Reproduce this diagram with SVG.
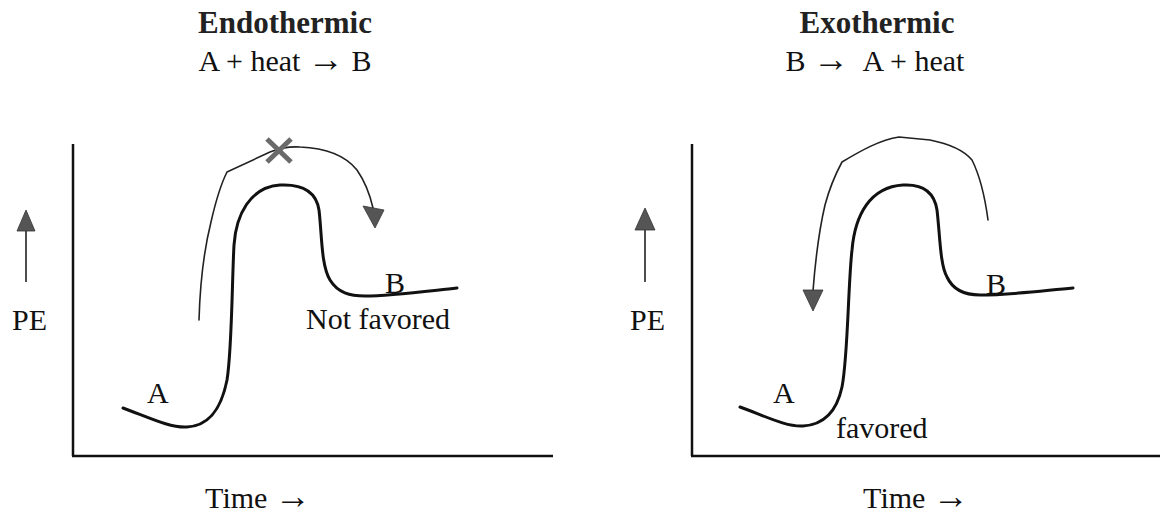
<svg xmlns="http://www.w3.org/2000/svg" width="1161" height="518" viewBox="0 0 1161 518">
<style>
text{font-family:"Liberation Serif","Times New Roman",serif;fill:#111;font-size:30px}
.title{font-weight:bold;font-size:31px;fill:#222}
.mid{text-anchor:middle}
.arr{font-size:36px}
.axis{stroke:#111;stroke-width:2.5;fill:none}
.curve{stroke:#111;stroke-width:3;fill:none;stroke-linecap:round}
.path{stroke:#222;stroke-width:1.6;fill:none;stroke-linecap:round;stroke-linejoin:round}
.head{fill:#555;stroke:#333;stroke-width:0.8}
.shaft{stroke:#222;stroke-width:1.6}
.cross{stroke:#6a6a6a;stroke-width:5;stroke-linecap:butt}
</style>
<g id="endothermic">
  <g id="endo-title">
    <text class="title mid" x="285" y="33">Endothermic</text>
    <text class="mid" x="285" y="71">A + heat <tspan class="arr">→</tspan> B</text>
  </g>
  <g id="endo-axes">
    <line class="axis" x1="73" y1="144" x2="73" y2="456"/>
    <line class="axis" x1="72" y1="456" x2="553" y2="456"/>
    <line class="shaft" x1="26" y1="229" x2="26" y2="282"/>
    <polygon class="head" points="26,210 17,231 35,231"/>
    <text x="12" y="330">PE</text>
    <text class="mid" x="258" y="508">Time <tspan class="arr">→</tspan></text>
  </g>
  <g id="endo-curve">
    <path class="curve" d="M123,408 C150,418 170,428 187,427 C205,426 220,415 227,380 C232,350 232,280 234,245 C236,215 250,187 280,185 C300,184 316,190 319,210 C322,235 321,265 330,280 C338,293 350,296 365,296 C390,296 420,292 457,288"/>
    <text x="147" y="403">A</text>
    <text x="385" y="293">B</text>
    <text x="306" y="329">Not favored</text>
  </g>
</g>
<g id="exothermic">
  <g id="exo-title">
    <text class="title mid" x="877" y="33">Exothermic</text>
    <text class="mid" x="875" y="71">B <tspan class="arr">→</tspan>&#160; A + heat</text>
  </g>
  <g id="exo-axes">
    <line class="axis" x1="692" y1="144" x2="692" y2="456"/>
    <line class="axis" x1="691" y1="456" x2="1160" y2="456"/>
    <line class="shaft" x1="645" y1="228" x2="645" y2="282"/>
    <polygon class="head" points="645,208 635,230 655,230"/>
    <text x="630" y="330">PE</text>
    <text class="mid" x="916" y="508">Time <tspan class="arr">→</tspan></text>
  </g>
  <g id="exo-curve">
    <path class="curve" d="M740,407 C767,417 787,427 803,426 C820,425 836,415 842,387 C848,357 848,285 852,250 C855,215 870,187 903,185 C920,184 934,190 937,210 C940,235 940,265 947,277 C953,290 965,295 980,295 C1010,295 1040,291 1073,288"/>
    <text x="773" y="403">A</text>
    <text x="986" y="294">B</text>
    <text x="836" y="438">favored</text>
  </g>
</g>
<g id="connectors">
  <path class="path" d="M199,320 C200,285 204,250 211,222 C216,200 222,182 227,172 L270,152 Q285,146 300,147 C325,148 345,155 357,170 C366,183 370,195 373,208"/>
  <polygon class="head" points="363,206 384,210 375,228"/>
  <line class="cross" x1="267" y1="139" x2="291" y2="162"/>
  <line class="cross" x1="291" y1="139" x2="267" y2="162"/>
  <path class="path" d="M988,220 C986,205 982,180 972,160 C962,148 945,143 930,140 L899,137 C880,140 862,150 842,162 C835,175 829,190 825,205 C818,235 815,265 813,291"/>
  <polygon class="head" points="803,290 823,290 813,311"/>
</g>
</svg>
